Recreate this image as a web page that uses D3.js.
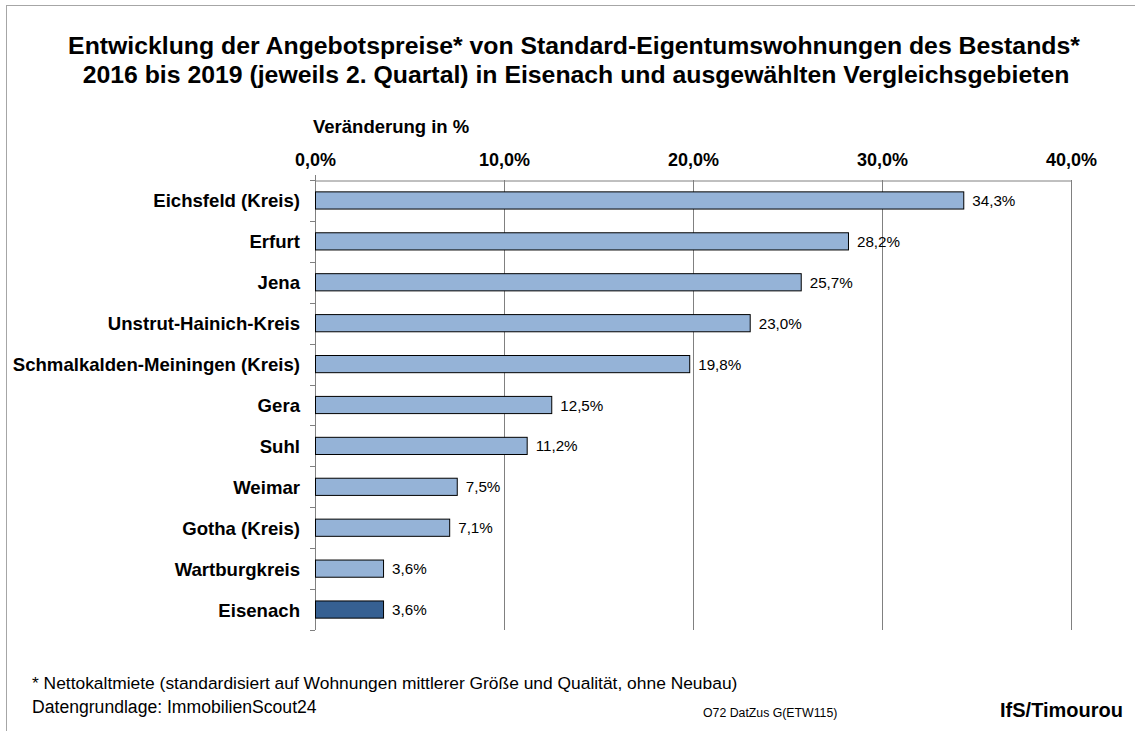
<!DOCTYPE html>
<html><head><meta charset="utf-8">
<script src="https://cdn.jsdelivr.net/npm/d3@7"></script>
<style>body{margin:0;background:#fff}svg{display:block;font-family:"Liberation Sans",Arial,sans-serif}</style>
</head><body>
<svg id="c" width="1135" height="731"></svg>
<script>
const categories = ["Eichsfeld (Kreis)","Erfurt","Jena","Unstrut-Hainich-Kreis","Schmalkalden-Meiningen (Kreis)","Gera","Suhl","Weimar","Gotha (Kreis)","Wartburgkreis","Eisenach"];
const values = [34.3,28.2,25.7,23.0,19.8,12.5,11.2,7.5,7.1,3.6,3.6];
const tickValues = [0,10,20,30,40];
const fmt = v => v.toFixed(1).replace(".", ",") + "%";

const svg = d3.select("#c");
svg.append("rect").attr("x",6.5).attr("y",5.5).attr("width",1140).attr("height",740).attr("fill","#fff").attr("stroke","#a6a6a6");

svg.append("text").attr("x",574).attr("y",54).attr("text-anchor","middle").attr("font-size",24.8).attr("font-weight","bold")
  .text("Entwicklung der Angebotspreise* von Standard-Eigentumswohnungen des Bestands*");
svg.append("text").attr("x",576).attr("y",83).attr("text-anchor","middle").attr("font-size",24.8).attr("font-weight","bold")
  .text("2016 bis 2019 (jeweils 2. Quartal) in Eisenach und ausgewählten Vergleichsgebieten");

const x = d3.scaleLinear().domain([0,40]).range([315,1071]);
const y = d3.scaleBand().domain(categories).range([180,630]).paddingInner(0.58).paddingOuter(0.29);
const yb = d3.scaleBand().domain(categories).range([180,630]);

// gridlines
svg.append("g").selectAll("line").data(tickValues.slice(1)).join("line")
  .attr("x1",d=>Math.round(x(d))+0.5).attr("x2",d=>Math.round(x(d))+0.5).attr("y1",180).attr("y2",630)
  .attr("stroke","#808080");
// top axis
const topAxis = svg.append("g").attr("transform","translate(0,180.5)")
  .call(d3.axisTop(x).tickValues(tickValues).tickFormat(fmt).tickSize(0).tickPadding(15));
topAxis.select(".domain").attr("stroke","#808080");
topAxis.selectAll("text").attr("font-size",18).attr("font-weight","bold").attr("fill","#000").attr("font-family","Liberation Sans, Arial, sans-serif");
topAxis.selectAll(".tick line").remove();

// left axis
svg.append("line").attr("x1",315.5).attr("x2",315.5).attr("y1",175).attr("y2",630).attr("stroke","#808080");
svg.append("g").selectAll("line").data(categories.concat(["_end"])).join("line")
  .attr("x1",310).attr("x2",315)
  .attr("y1",(d,i)=>Math.round(180+i*yb.step())+0.5).attr("y2",(d,i)=>Math.round(180+i*yb.step())+0.5)
  .attr("stroke","#808080");

// bars
svg.append("g").selectAll("rect").data(values).join("rect")
  .attr("x",x(0)+0.5).attr("y",(d,i)=>y(categories[i]))
  .attr("width",d=>x(d)-x(0)).attr("height",y.bandwidth())
  .attr("fill",(d,i)=>categories[i]==="Eisenach"?"#366092":"#95B3D7")
  .attr("stroke","#000").attr("stroke-width",1);

// value labels
svg.append("g").selectAll("text").data(values).join("text")
  .attr("x",d=>x(d)+9).attr("y",(d,i)=>yb(categories[i])+yb.bandwidth()/2+5.5)
  .attr("font-size",15.2).text(fmt);

// category labels
svg.append("g").selectAll("text").data(categories).join("text")
  .attr("x",300).attr("y",d=>yb(d)+yb.bandwidth()/2+7).attr("text-anchor","end")
  .attr("font-size",18.6).attr("font-weight","bold").text(d=>d);

svg.append("text").attr("x",313).attr("y",133).attr("font-size",18.5).attr("font-weight","bold").text("Veränderung in %");

svg.append("text").attr("x",32).attr("y",689).attr("font-size",17.4)
  .text("* Nettokaltmiete (standardisiert auf Wohnungen mittlerer Größe und Qualität, ohne Neubau)");
svg.append("text").attr("x",32).attr("y",713).attr("font-size",17.6)
  .text("Datengrundlage: ImmobilienScout24");
svg.append("text").attr("x",703).attr("y",717).attr("font-size",12.3)
  .text("O72 DatZus G(ETW115)");
svg.append("text").attr("x",1123).attr("y",717).attr("text-anchor","end").attr("font-size",20).attr("font-weight","bold")
  .text("IfS/Timourou");
</script>
</body></html>
